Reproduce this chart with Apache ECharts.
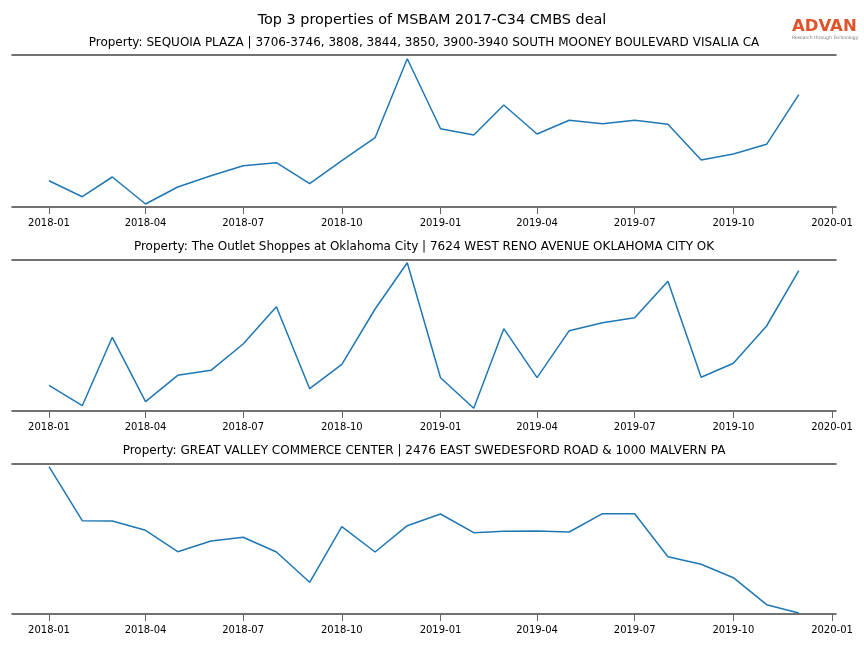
<!DOCTYPE html>
<html>
<head>
<meta charset="utf-8">
<script src="https://cdn.jsdelivr.net/npm/echarts@6/dist/echarts.min.js"></script>
<style>html,body{margin:0;padding:0;background:#fff}#c{width:864px;height:648px}</style>
</head>
<body>
<div id="c"></div>
<script>
const months = ['2018-01','2018-02','2018-03','2018-04','2018-05','2018-06','2018-07','2018-08','2018-09','2018-10','2018-11','2018-12',
  '2019-01','2019-02','2019-03','2019-04','2019-05','2019-06','2019-07','2019-08','2019-09','2019-10','2019-11','2019-12'];
const tickLabels = ['2018-01','2018-04','2018-07','2018-10','2019-01','2019-04','2019-07','2019-10','2020-01'];
const titles = [
  'Property: SEQUOIA PLAZA | 3706-3746, 3808, 3844, 3850, 3900-3940 SOUTH MOONEY BOULEVARD VISALIA CA',
  'Property: The Outlet Shoppes at Oklahoma City | 7624 WEST RENO AVENUE OKLAHOMA CITY OK',
  'Property: GREAT VALLEY COMMERCE CENTER | 2476 EAST SWEDESFORD ROAD & 1000 MALVERN PA'
];
const sequoia = [26.3,10.3,30,3,20,31.3,41.3,44.3,23.3,46.3,69.3,148.3,78.3,72,102,73,86.7,83.3,86.7,82.7,47,53,62.7,112.3];
const outlet = [25.7,5.3,73.7,9.3,35.7,40.7,67,104.3,22.3,46.7,102,148.3,33.3,2.7,82.3,33.3,80.3,88.3,93.3,129.7,33.7,47.7,85,140.3];
const greatValley = [147.3,93.3,93,83.7,62.3,73,76.7,62,31.7,87.3,62,88.3,100,81.3,82.7,83,82,100.3,100.3,57.3,49.7,36.3,9.3,1];
const seriesList = [sequoia, outlet, greatValley];
const yMax = [152, 151, 150];

function ts(s){ const p=s.split('-'); return Date.UTC(+p[0], +p[1]-1, 1); }
const DAY = 86400000;
const xMin = ts('2018-01') - 34.5*DAY;
const xMax = ts('2020-01') + 3.7*DAY;
const tickVals = tickLabels.map(ts);
function fmt(v){ const d=new Date(v); const m=d.getUTCMonth()+1; return d.getUTCFullYear()+'-'+(m<10?'0':'')+m; }

const gridTops = [55, 260, 464];
const gridH = [152, 151, 150];
const subY = [42, 246, 450];
const FONT = 'DejaVu Sans';

const grids=[], xAxes=[], yAxes=[], series=[], titleArr=[];
titleArr.push({text:'Top 3 properties of MSBAM 2017-C34 CMBS deal', left:427, top:8, textAlign:'center',
  textStyle:{fontFamily:FONT, fontSize:14.4, fontWeight:'normal', color:'#000'}});
for(let i=0;i<3;i++){
  grids.push({left:12, right:28, top:gridTops[i], height:gridH[i], containLabel:false});
  titleArr.push({text:titles[i], left:419, top:subY[i]-10, textAlign:'center',
    textStyle:{fontFamily:FONT, fontSize:12, fontWeight:'normal', color:'#000'}});
  xAxes.push({type:'value', gridIndex:i, min:xMin, max:xMax, position:'bottom', scale:true,
    axisLine:{show:true, onZero:false, lineStyle:{color:'#444', width:1.6}},
    axisTick:{show:true, customValues:tickVals, length:7, lineStyle:{color:'#666', width:1}},
    axisLabel:{show:true, customValues:tickVals, formatter:fmt, margin:11, fontFamily:FONT, fontSize:10, color:'#000',
      showMinLabel:true, showMaxLabel:true},
    splitLine:{show:false}, minorTick:{show:false}});
  xAxes.push({type:'value', gridIndex:i, min:xMin, max:xMax, position:'top', scale:true,
    axisLine:{show:true, onZero:false, lineStyle:{color:'#444', width:1.6}},
    axisTick:{show:false}, axisLabel:{show:false}, splitLine:{show:false}});
  yAxes.push({type:'value', gridIndex:i, min:0, max:yMax[i], show:false, splitLine:{show:false}});
  series.push({type:'line', xAxisIndex:i*2, yAxisIndex:i, showSymbol:false, symbol:'none',
    lineStyle:{color:'#1f77b4', width:1.5}, animation:false,
    data: months.map((m,k)=>[ts(m), seriesList[i][k]])});
}

const chart = echarts.init(document.getElementById('c'), null, {renderer:'canvas'});
chart.setOption({
  animation:false,
  backgroundColor:'#fff',
  title:titleArr,
  grid:grids, xAxis:xAxes, yAxis:yAxes, series:series,
  graphic:[
    {type:'text', left:792, top:18, style:{text:'ADVAN', fontFamily:'DejaVu Sans', fontWeight:'bold', fontSize:16.5, fill:'#e0532b'}},
    {type:'text', left:792, top:35.5, style:{text:'Research through Technology', fontFamily:'DejaVu Sans', fontSize:4.5, fill:'#777'}}
  ]
});
</script>
</body>
</html>
